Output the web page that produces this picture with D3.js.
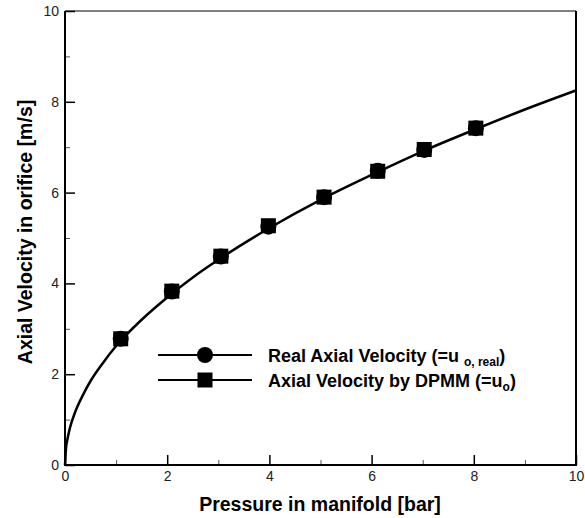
<!DOCTYPE html>
<html>
<head>
<meta charset="utf-8">
<script src="https://cdn.jsdelivr.net/npm/d3@7"></script>
<style>
  body { margin: 0; background: #fff; }
  text { font-family: "Liberation Sans", Arial, sans-serif; }
</style>
</head>
<body>
<div id="chart"></div>
<script>
const width = 585,
    height = 518;

// pressure [bar] for the measured points
const pressure = [1.09, 2.09, 3.05, 3.98, 5.07, 6.12, 7.03, 8.04];
// real axial velocity (circles)
const realVelocity = [2.78, 3.82, 4.59, 5.25, 5.90, 6.48, 6.94, 7.42];
// velocity by DPMM (squares)
const dpmmVelocity = [2.78, 3.83, 4.60, 5.27, 5.90, 6.47, 6.95, 7.42];

// curve
const curveP = [0, 0.02, 0.05, 0.1, 0.2, 0.35, 0.5, 0.75, 1, 1.5, 2, 2.5, 3, 4, 5, 6, 7, 8, 9, 10];
const curveU = [0, 0.37, 0.58, 0.83, 1.17, 1.54, 1.85, 2.26, 2.62, 3.2, 3.69, 4.13, 4.52, 5.22, 5.84, 6.39, 6.91, 7.38, 7.83, 8.25];

const majorTicks = [0, 2, 4, 6, 8, 10];
const minorTicks = [1, 3, 5, 7, 9];

const svg = d3.select('#chart').append('svg')
    .attr('width', width)
    .attr('height', height);

const x = d3.scaleLinear().domain([0, 10]).range([65, 576]);
const y = d3.scaleLinear().domain([0, 10]).range([465, 11]);

// minor ticks (inward, no labels)
svg.append('g')
    .attr('class', 'minor')
    .attr('transform', `translate(0,${y(0)})`)
    .call(d3.axisBottom(x).tickValues(minorTicks).tickSize(-5).tickFormat(''))
    .call(g => g.select('.domain').remove());
svg.append('g')
    .attr('class', 'minor')
    .attr('transform', `translate(${x(0)},0)`)
    .call(d3.axisLeft(y).tickValues(minorTicks).tickSize(-5).tickFormat(''))
    .call(g => g.select('.domain').remove());
svg.selectAll('.minor .tick line').attr('stroke', '#555').attr('stroke-width', 1);

// major ticks with labels
svg.append('g')
    .attr('class', 'major')
    .attr('transform', `translate(0,${y(0)})`)
    .call(d3.axisBottom(x).tickValues(majorTicks).tickSize(-10).tickPadding(6).tickFormat(d3.format('d')))
    .call(g => g.select('.domain').remove());
svg.append('g')
    .attr('class', 'major')
    .attr('transform', `translate(${x(0)},0)`)
    .call(d3.axisLeft(y).tickValues(majorTicks).tickSize(-10).tickPadding(6).tickFormat(d3.format('d')))
    .call(g => g.select('.domain').remove());

svg.selectAll('.major .tick line').attr('stroke', '#000').attr('stroke-width', 1.5);
svg.selectAll('.major .tick text')
    .attr('font-size', 14)
    .attr('font-family', '"Liberation Sans", Arial, sans-serif')
    .attr('fill', '#222');

// frame
svg.append('line').attr('x1', x(0)).attr('x2', x(10)).attr('y1', y(10)).attr('y2', y(10))
    .attr('stroke', '#000').attr('stroke-width', 1.2);
svg.append('line').attr('x1', x(10)).attr('x2', x(10)).attr('y1', y(10)).attr('y2', y(0))
    .attr('stroke', '#000').attr('stroke-width', 2);
svg.append('line').attr('x1', x(0)).attr('x2', x(0)).attr('y1', y(10)).attr('y2', y(0) + 1)
    .attr('stroke', '#000').attr('stroke-width', 2);
svg.append('line').attr('x1', x(0) - 1).attr('x2', x(10) + 1).attr('y1', y(0)).attr('y2', y(0))
    .attr('stroke', '#000').attr('stroke-width', 2);

// curve
const curve = curveP.map((p, i) => [p, curveU[i]]);
svg.append('path')
    .datum(curve)
    .attr('fill', 'none')
    .attr('stroke', '#000')
    .attr('stroke-width', 2.5)
    .attr('d', d3.line().x(d => x(d[0])).y(d => y(d[1])).curve(d3.curveMonotoneX));

// markers
svg.append('g')
    .selectAll('circle')
    .data(pressure.map((p, i) => [p, realVelocity[i]]))
    .enter()
    .append('circle')
    .attr('cx', d => x(d[0]))
    .attr('cy', d => y(d[1]))
    .attr('r', 8)
    .attr('fill', '#000');

const sq = 15;
svg.append('g')
    .selectAll('rect')
    .data(pressure.map((p, i) => [p, dpmmVelocity[i]]))
    .enter()
    .append('rect')
    .attr('x', d => x(d[0]) - sq / 2)
    .attr('y', d => y(d[1]) - sq / 2)
    .attr('width', sq)
    .attr('height', sq)
    .attr('fill', '#000');

// legend
const legend = svg.append('g').attr('transform', 'translate(158,355)');
legend.append('line').attr('x1', 0).attr('x2', 94).attr('y1', 0).attr('y2', 0)
    .attr('stroke', '#000').attr('stroke-width', 2);
legend.append('circle').attr('cx', 47).attr('cy', 0).attr('r', 8).attr('fill', '#000');
legend.append('line').attr('x1', 0).attr('x2', 94).attr('y1', 25).attr('y2', 25)
    .attr('stroke', '#000').attr('stroke-width', 2);
legend.append('rect').attr('x', 47 - 7.5).attr('y', 25 - 7.5).attr('width', 15).attr('height', 15).attr('fill', '#000');

const t1 = legend.append('text').attr('x', 110).attr('y', 7)
    .attr('font-size', 18).attr('font-weight', 'bold');
t1.append('tspan').text('Real Axial Velocity (=u ');
t1.append('tspan').attr('font-size', 12).attr('dy', 4).text('o, real');
t1.append('tspan').attr('dy', -4).text(')');

const t2 = legend.append('text').attr('x', 110).attr('y', 32)
    .attr('font-size', 18).attr('font-weight', 'bold');
t2.append('tspan').text('Axial Velocity by DPMM (=u');
t2.append('tspan').attr('font-size', 12).attr('dy', 4).text('o');
t2.append('tspan').attr('dy', -4).text(')');

// axis titles
svg.append('text')
    .attr('x', 320)
    .attr('y', 511)
    .attr('text-anchor', 'middle')
    .attr('font-size', 19.5)
    .attr('font-weight', 'bold')
    .text('Pressure in manifold [bar]');

svg.append('text')
    .attr('transform', `translate(32,232) rotate(-90)`)
    .attr('text-anchor', 'middle')
    .attr('font-size', 19.5)
    .attr('font-weight', 'bold')
    .text('Axial Velocity in orifice [m/s]');
</script>
</body>
</html>
